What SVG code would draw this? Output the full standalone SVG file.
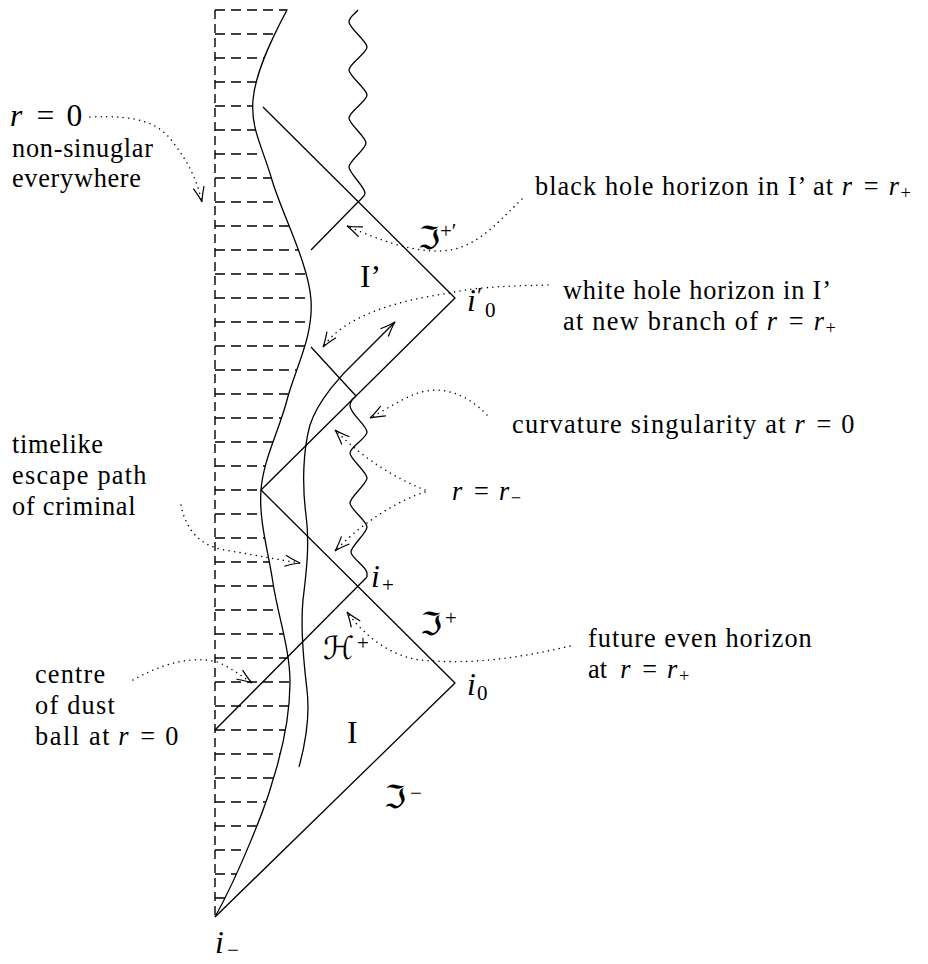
<svg xmlns="http://www.w3.org/2000/svg" width="928" height="964" viewBox="0 0 928 964">
<defs>
<style>
.ln{fill:none;stroke:#000;stroke-width:1.3;stroke-linejoin:round}
.dsh{fill:none;stroke:#000;stroke-width:1.3;stroke-dasharray:10 6}
.vd{fill:none;stroke:#000;stroke-width:1.4;stroke-dasharray:9 5}
.dot{fill:none;stroke:#000;stroke-width:1.5;stroke-dasharray:0.01 5.5;stroke-linecap:round}
.t{font-family:"Liberation Serif",serif;font-size:26.3px;fill:#000}
.b{font-size:31.6px}
.s{font-size:21px}
.ss{font-size:18.4px}
.i{font-style:italic}
.f{font-family:"DejaVu Serif","DejaVu Sans",serif}
.c{text-anchor:middle}
</style>
<marker id="ah" markerUnits="userSpaceOnUse" orient="auto" overflow="visible" markerWidth="1" markerHeight="1"><path d="M -15 -5.5 Q -6 -1.5 0 0 Q -6 1.5 -15 5.5" fill="none" stroke="#000" stroke-width="1.2"/></marker>
<clipPath id="ball"><path d="M 215 0 L 300 0 L 287 10 C 272 38, 255.5 71.7, 253 100 C 250.5 128.3, 262.3 146.7, 272 180 C 281.7 213.3, 308.5 263.3, 311 300 C 313.5 336.7, 295.3 368.3, 287 400 C 278.7 431.7, 263.3 459.5, 261 490 C 258.7 520.5, 268.2 550.8, 273 583 C 277.8 615.2, 290.2 649.7, 290 683 C 289.8 716.3, 281 755, 272 783 C 266 805, 240 872, 215 917 Z"/></clipPath>
</defs>
<rect width="928" height="964" fill="#fff"/>

<g id="dust-ball">
<path class="vd" d="M 215 10 V 917"/>
<path class="dsh" clip-path="url(#ball)" d="M215 10H330M215 34H330M215 58H330M215 82H330M215 106H330M215 130H330M215 154H330M215 178H330M215 202H330M215 226H330M215 250H330M215 274H330M215 298H330M215 322H330M215 346H330M215 370H330M215 394H330M215 418H330M215 442H330M215 466H330M215 490H330M215 514H330M215 538H330M215 562H330M215 586H330M215 610H330M215 634H330M215 658H330M215 682H330M215 706H330M215 730H330M215 754H330M215 778H330M215 802H330M215 826H330M215 850H330M215 874H330M215 898H330"/>
<path id="surface" class="ln" d="M 287 10 C 272 38, 255.5 71.7, 253 100 C 250.5 128.3, 262.3 146.7, 272 180 C 281.7 213.3, 308.5 263.3, 311 300 C 313.5 336.7, 295.3 368.3, 287 400 C 278.7 431.7, 263.3 459.5, 261 490 C 258.7 520.5, 268.2 550.8, 273 583 C 277.8 615.2, 290.2 649.7, 290 683 C 289.8 716.3, 281 755, 272 783 C 266 805, 240 872, 215 917"/>
</g>

<g id="penrose">
<path class="ln" d="M 215 917 L 455 683 L 261 490 L 455 298 L 263 107"/>
<path class="ln" d="M 215 730 L 367 577"/>
<path class="ln" d="M 311 250 L 358 202"/>
<path class="ln" d="M 311 347 L 356 396"/>
<path id="sing-upper" class="ln" d="M 358 10 C 354 15, 349 17, 349 22 C 349 28, 367 41, 367 47 C 367 53, 349 64, 349 70 C 349 76, 367 89, 367 95 C 367 101, 349 112, 349 118 C 349 124, 366 137, 366 143 C 366 149, 349 161, 349 167 C 349 173, 365 187, 365 193 C 365 196, 361 199, 358 202"/>
<path id="sing-lower" class="ln" d="M 355 397 C 351 400, 350 402, 350 406 C 350 413, 367 426, 367 432 C 367 438, 350 447, 350 453 C 350 459, 367 472, 367 478 C 367 484, 350 497, 350 503 C 350 509, 367 521, 367 527 C 367 533, 351 546, 351 552 C 351 558, 367 567, 367 573 L 367 577"/>
<path id="escape" class="ln" marker-end="url(#ah)" d="M 299 767 C 305 745, 310 715, 307 690 C 304 665, 300 630, 303 600 C 306 575, 310 545, 306 515 C 302 485, 303 450, 310 425 C 318 400, 342 374, 357 360 L 395 322"/>
</g>

<g id="labels" class="t">
<text class="b f" x="418" y="249">ℑ</text><text class="s" x="440" y="238">+′</text>
<text class="b" x="360" y="287">I’</text>
<text class="b i" x="467" y="311">i</text><text x="477" y="303" font-size="24">′</text><text class="s" x="485" y="317">0</text>
<text class="b i" x="371" y="587">i</text><text class="s" x="382" y="592">+</text>
<text class="b f" x="420" y="635">ℑ</text><text class="s" x="445" y="625">+</text>
<text class="b f" x="323" y="659">ℋ</text><text class="s" x="357" y="650">+</text>
<text class="b i" x="467" y="695">i</text><text class="s" x="477" y="700">0</text>
<text class="b" x="347" y="743">I</text>
<text class="b f" x="384" y="808">ℑ</text><text class="s" x="410" y="800">−</text>
<text class="b i" x="215" y="953">i</text><text class="s" x="227" y="957">−</text>
</g>

<g id="annotations" class="t">
<text class="b i" x="10" y="126">r</text><text class="b c" x="45.3" y="126">=</text><text class="b c" x="74.3" y="126">0</text>
<text x="12" y="157" textLength="141" lengthAdjust="spacing">non-sinuglar</text>
<text x="12" y="187" textLength="129" lengthAdjust="spacing">everywhere</text>

<text x="535" y="195" textLength="298" lengthAdjust="spacing">black hole horizon in I’ at</text>
<text class="i" x="841.8" y="195">r</text><text class="c" x="871.2" y="195">=</text><text class="i" x="888.7" y="195">r</text><text class="ss" x="900.6" y="199">+</text>

<text x="563" y="299" textLength="268" lengthAdjust="spacing">white hole horizon in I’</text>
<text x="563" y="330" textLength="195" lengthAdjust="spacing">at new branch of</text>
<text class="i" x="766.8" y="330">r</text><text class="c" x="796.2" y="330">=</text><text class="i" x="813.7" y="330">r</text><text class="ss" x="825.6" y="334">+</text>

<text x="512" y="433" textLength="273.6" lengthAdjust="spacing">curvature singularity at</text>
<text class="i" x="794.4" y="433">r</text><text class="c" x="823.8" y="433">=</text><text class="c" x="847.9" y="433">0</text>

<text class="i" x="452" y="500">r</text><text class="c" x="481.4" y="500">=</text><text class="i" x="498.9" y="500">r</text><text class="ss" x="510.8" y="504">−</text>

<text x="12" y="453" textLength="91" lengthAdjust="spacing">timelike</text>
<text x="12" y="484" textLength="134.5" lengthAdjust="spacing">escape path</text>
<text x="12" y="515" textLength="123.6" lengthAdjust="spacing">of criminal</text>

<text x="588" y="647" textLength="223.7" lengthAdjust="spacing">future even horizon</text>
<text x="588" y="678">at</text>
<text class="i" x="620.2" y="678">r</text><text class="c" x="649.6" y="678">=</text><text class="i" x="667.1" y="678">r</text><text class="ss" x="679" y="682">+</text>

<text x="35" y="683" textLength="70.2" lengthAdjust="spacing">centre</text>
<text x="35" y="714" textLength="79.8" lengthAdjust="spacing">of dust</text>
<text x="35" y="745" textLength="74.5" lengthAdjust="spacing">ball at</text>
<text class="i" x="118.3" y="745">r</text><text class="c" x="147.7" y="745">=</text><text class="c" x="171.8" y="745">0</text>
</g>

<g id="connectors">
<path class="dot" marker-end="url(#ah)" d="M 90 117 C 140 115, 160 123, 175 145 C 188 162, 197 180, 202 202"/>
<path class="dot" marker-end="url(#ah)" d="M 522 199 C 495 225, 475 250, 440 251 C 410 252, 375 238, 347 226"/>
<path class="dot" marker-end="url(#ah)" d="M 548 285 C 500 286, 470 288, 450 293 C 400 300, 345 315, 323 347"/>
<path class="dot" marker-end="url(#ah)" d="M 487 415 C 465 392, 440 385, 415 394 C 400 400, 385 410, 370 418"/>
<path class="dot" marker-end="url(#ah)" d="M 425 490 C 395 478, 365 460, 335 430"/>
<path class="dot" marker-end="url(#ah)" d="M 425 492 C 400 500, 365 520, 335 551"/>
<path class="dot" marker-end="url(#ah)" d="M 181 505 C 186 530, 200 546, 225 550 C 255 555, 280 560, 300 563"/>
<path class="dot" marker-end="url(#ah)" d="M 570 646 C 520 658, 470 665, 420 660 C 385 655, 360 630, 347 612"/>
<path class="dot" marker-end="url(#ah)" d="M 133 680 C 160 665, 190 655, 217 662 C 230 667, 240 675, 252 683"/>
</g>
</svg>
